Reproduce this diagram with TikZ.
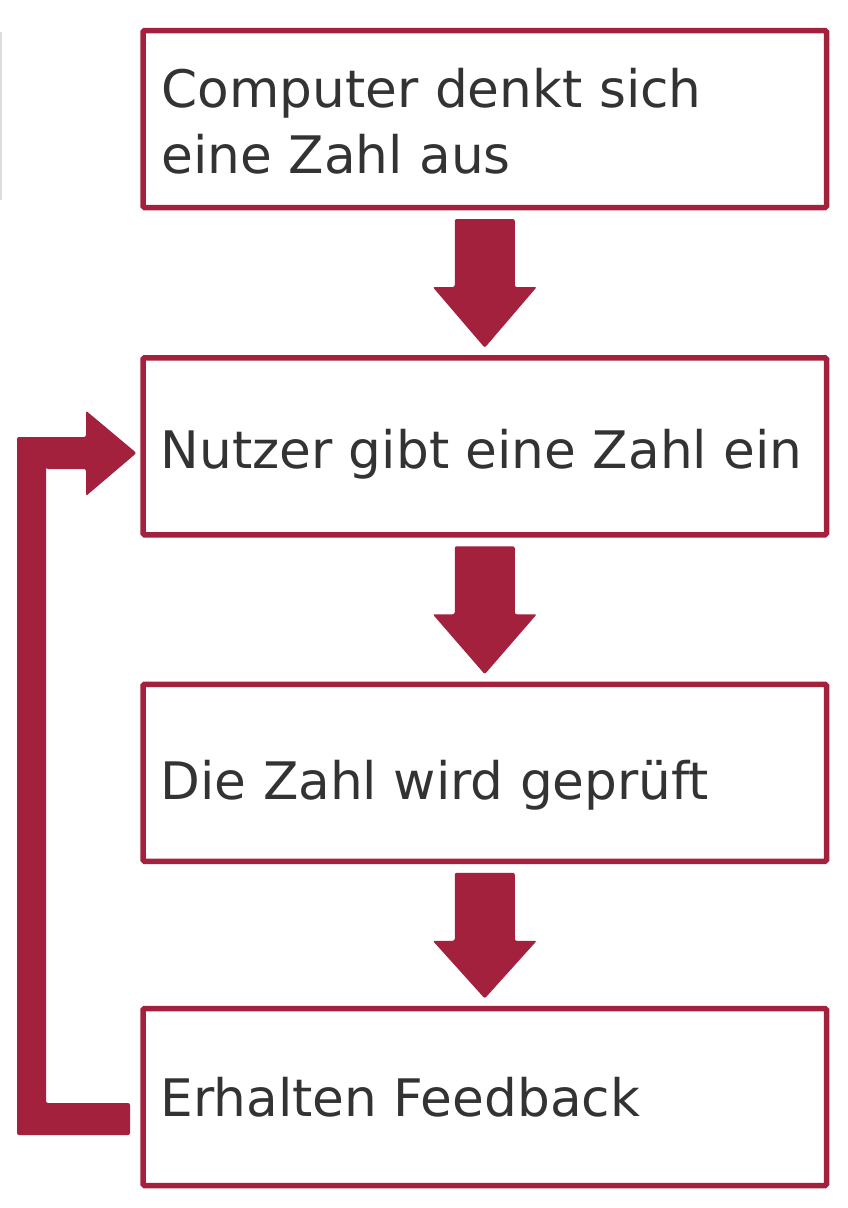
\documentclass[tikz,border=0pt]{standalone}
\usepackage{fontspec}
\setmainfont{DejaVu Sans}
\usetikzlibrary{calc}
\definecolor{boxred}{HTML}{A3213D}
\definecolor{txtgray}{HTML}{333333}
\definecolor{faint}{HTML}{DDDDDD}
\begin{document}
\begin{tikzpicture}[x=1pt,y=-1pt,
  box/.style={draw=boxred,line width=5.5pt,rounded corners=1.5pt,minimum width=683.5pt,minimum height=177pt,inner sep=0pt,outer sep=0pt},
  boxtext/.style={anchor=base west,inner sep=0pt,text=txtgray,font=\fontsize{51.7}{65}\selectfont},
  block/.style={fill=boxred,rounded corners=2pt}]
\useasboundingbox (0,0) rectangle (848,1208);
% faint line at the left edge
\draw[faint,line width=1.5pt] (0.75,32) -- (0.75,200);
% boxes
\node[box] (b1) at (484.75,119) {};
\node[box] (b2) at (484.75,446.25) {};
\node[box] (b3) at (484.75,772.75) {};
\node[box] (b4) at (484.75,1097) {};
% texts
\node[boxtext] (t1a) at (161.5,107.7) {Computer denkt sich};
\node[boxtext] (t1b) at (161.5,173) {eine Zahl aus};
\node[boxtext] (t2) at (160.5,468) {Nutzer gibt eine Zahl ein};
\node[boxtext] (t3) at (160.5,799) {Die Zahl wird geprüft};
\node[boxtext] (t4) at (160.5,1116.7) {Erhalten Feedback};
% block arrows down
\foreach \a/\b in {b1/b2,b2/b3,b3/b4}{
  \path ($(\a.south)+(0,11.5)$) coordinate (s);
  \path ($(\b.north)+(0,-10)$) coordinate (e);
  \fill[block] ($(s)+(-30,0)$) -- ($(s)+(30,0)$) -- ($(s)+(30,68)$) -- ($(s)+(52,68)$)
     -- (e) -- ($(s)+(-52,68)$) -- ($(s)+(-30,68)$) -- cycle;
}
% feedback arrow
\coordinate (fb) at ($(b4.west)+(-13,22)$);
\coordinate (ft) at ($(b2.west)+(-6.5,6.75)$);
\fill[block] ($(fb)+(0,-16)$) -- ($(fb)+(-84,-16)$) |- ($(ft)+(-90.5,16)$)
  -- ($(ft)+(-50.5,16)$) -- ($(ft)+(-50.5,43)$) -- (ft) -- ($(ft)+(-50.5,-42.3)$)
  -- ($(ft)+(-50.5,-16)$) -- ($(ft)+(-119.5,-16)$) |- ($(fb)+(0,16)$) -- cycle;
\end{tikzpicture}
\end{document}
